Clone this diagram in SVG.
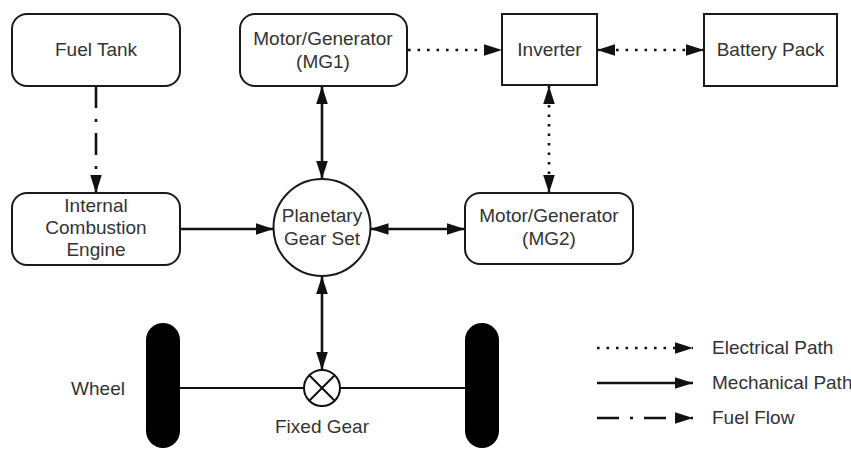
<svg xmlns="http://www.w3.org/2000/svg" width="851" height="450" viewBox="0 0 851 450">
  <style>
    .box { fill: #fff; stroke: #1a1a1a; stroke-width: 2; }
    .lbl { font-family: "Liberation Sans", Arial, sans-serif; font-size: 19px; fill: #333; text-anchor: middle; }
    .leg { font-family: "Liberation Sans", Arial, sans-serif; font-size: 19px; fill: #333; }
    .mech { fill: none; stroke: #111; stroke-width: 2.6; }
    .elec { fill: none; stroke: #111; stroke-width: 2.6; stroke-dasharray: 2.6 6.9; }
    .fuel { fill: none; stroke: #111; stroke-width: 2.6; stroke-dasharray: 22 11 3 11; }
    .axle { fill: none; stroke: #111; stroke-width: 1.8; }
  </style>
  <defs>
    <marker id="arrow" markerUnits="userSpaceOnUse" markerWidth="18" markerHeight="12" viewBox="0 0 18 12" refX="18" refY="6" orient="auto-start-reverse">
      <path d="M0,0.2 L18,6 L0,11.8 z" fill="#111"/>
    </marker>
  </defs>

  <rect width="851" height="450" fill="#fff"/>

  <!-- connectors -->
  <g id="connectors">
    <path class="fuel" d="M96,86 V193" marker-end="url(#arrow)"/>
    <path class="elec" d="M408,50 H502" marker-end="url(#arrow)"/>
    <path class="elec" d="M597,50 H704" marker-start="url(#arrow)" marker-end="url(#arrow)"/>
    <path class="mech" d="M322,86 V179" marker-start="url(#arrow)" marker-end="url(#arrow)"/>
    <path class="elec" d="M549,86 V193" marker-start="url(#arrow)" marker-end="url(#arrow)"/>
    <path class="mech" d="M180,229 H273.5" marker-end="url(#arrow)"/>
    <path class="mech" d="M370.5,229 H465" marker-start="url(#arrow)" marker-end="url(#arrow)"/>
    <path class="mech" d="M322,276 V370" marker-start="url(#arrow)" marker-end="url(#arrow)"/>
    <path class="axle" d="M180,388 H304 M340,388 H465"/>
  </g>

  <g id="fuel-tank">
    <rect class="box" x="12" y="14" width="168" height="72" rx="15"/>
    <text class="lbl" x="96" y="56">Fuel Tank</text>
  </g>

  <g id="mg1">
    <rect class="box" x="240" y="14" width="167" height="72" rx="15"/>
    <text class="lbl" x="323" y="45">Motor/Generator</text>
    <text class="lbl" x="323" y="68">(MG1)</text>
  </g>

  <g id="inverter">
    <rect class="box" x="502" y="14" width="95" height="71"/>
    <text class="lbl" x="549.5" y="56">Inverter</text>
  </g>

  <g id="battery-pack">
    <rect class="box" x="704" y="14" width="133" height="72"/>
    <text class="lbl" x="770.5" y="56">Battery Pack</text>
  </g>

  <g id="ice">
    <rect class="box" x="12" y="193" width="168" height="72" rx="15"/>
    <text class="lbl" x="96" y="212">Internal</text>
    <text class="lbl" x="96" y="234">Combustion</text>
    <text class="lbl" x="96" y="256">Engine</text>
  </g>

  <g id="planetary-gear-set">
    <circle class="box" cx="322" cy="227.5" r="48.5"/>
    <text class="lbl" x="322" y="222">Planetary</text>
    <text class="lbl" x="322" y="245">Gear Set</text>
  </g>

  <g id="mg2">
    <rect class="box" x="465" y="193" width="168" height="71" rx="15"/>
    <text class="lbl" x="549" y="222">Motor/Generator</text>
    <text class="lbl" x="549" y="245">(MG2)</text>
  </g>

  <g id="wheels">
    <rect x="146" y="323" width="34" height="125" rx="17" fill="#000"/>
    <rect x="465" y="323" width="34" height="125" rx="17" fill="#000"/>
    <text class="lbl" x="98" y="395">Wheel</text>
  </g>

  <g id="fixed-gear">
    <circle cx="322" cy="388" r="18" fill="#fff" stroke="#111" stroke-width="2"/>
    <path d="M309.3,375.3 L334.7,400.7 M334.7,375.3 L309.3,400.7" stroke="#111" stroke-width="2"/>
    <text class="lbl" x="322" y="433">Fixed Gear</text>
  </g>

  <!-- legend -->
  <g id="legend">
    <path class="elec" d="M597,348 H693" marker-end="url(#arrow)"/>
    <path class="mech" d="M597,383 H693" marker-end="url(#arrow)"/>
    <path class="fuel" d="M597,418 H693" marker-end="url(#arrow)"/>
    <text class="leg" x="712" y="354">Electrical Path</text>
    <text class="leg" x="712" y="389">Mechanical Path</text>
    <text class="leg" x="712" y="424">Fuel Flow</text>
  </g>
</svg>
